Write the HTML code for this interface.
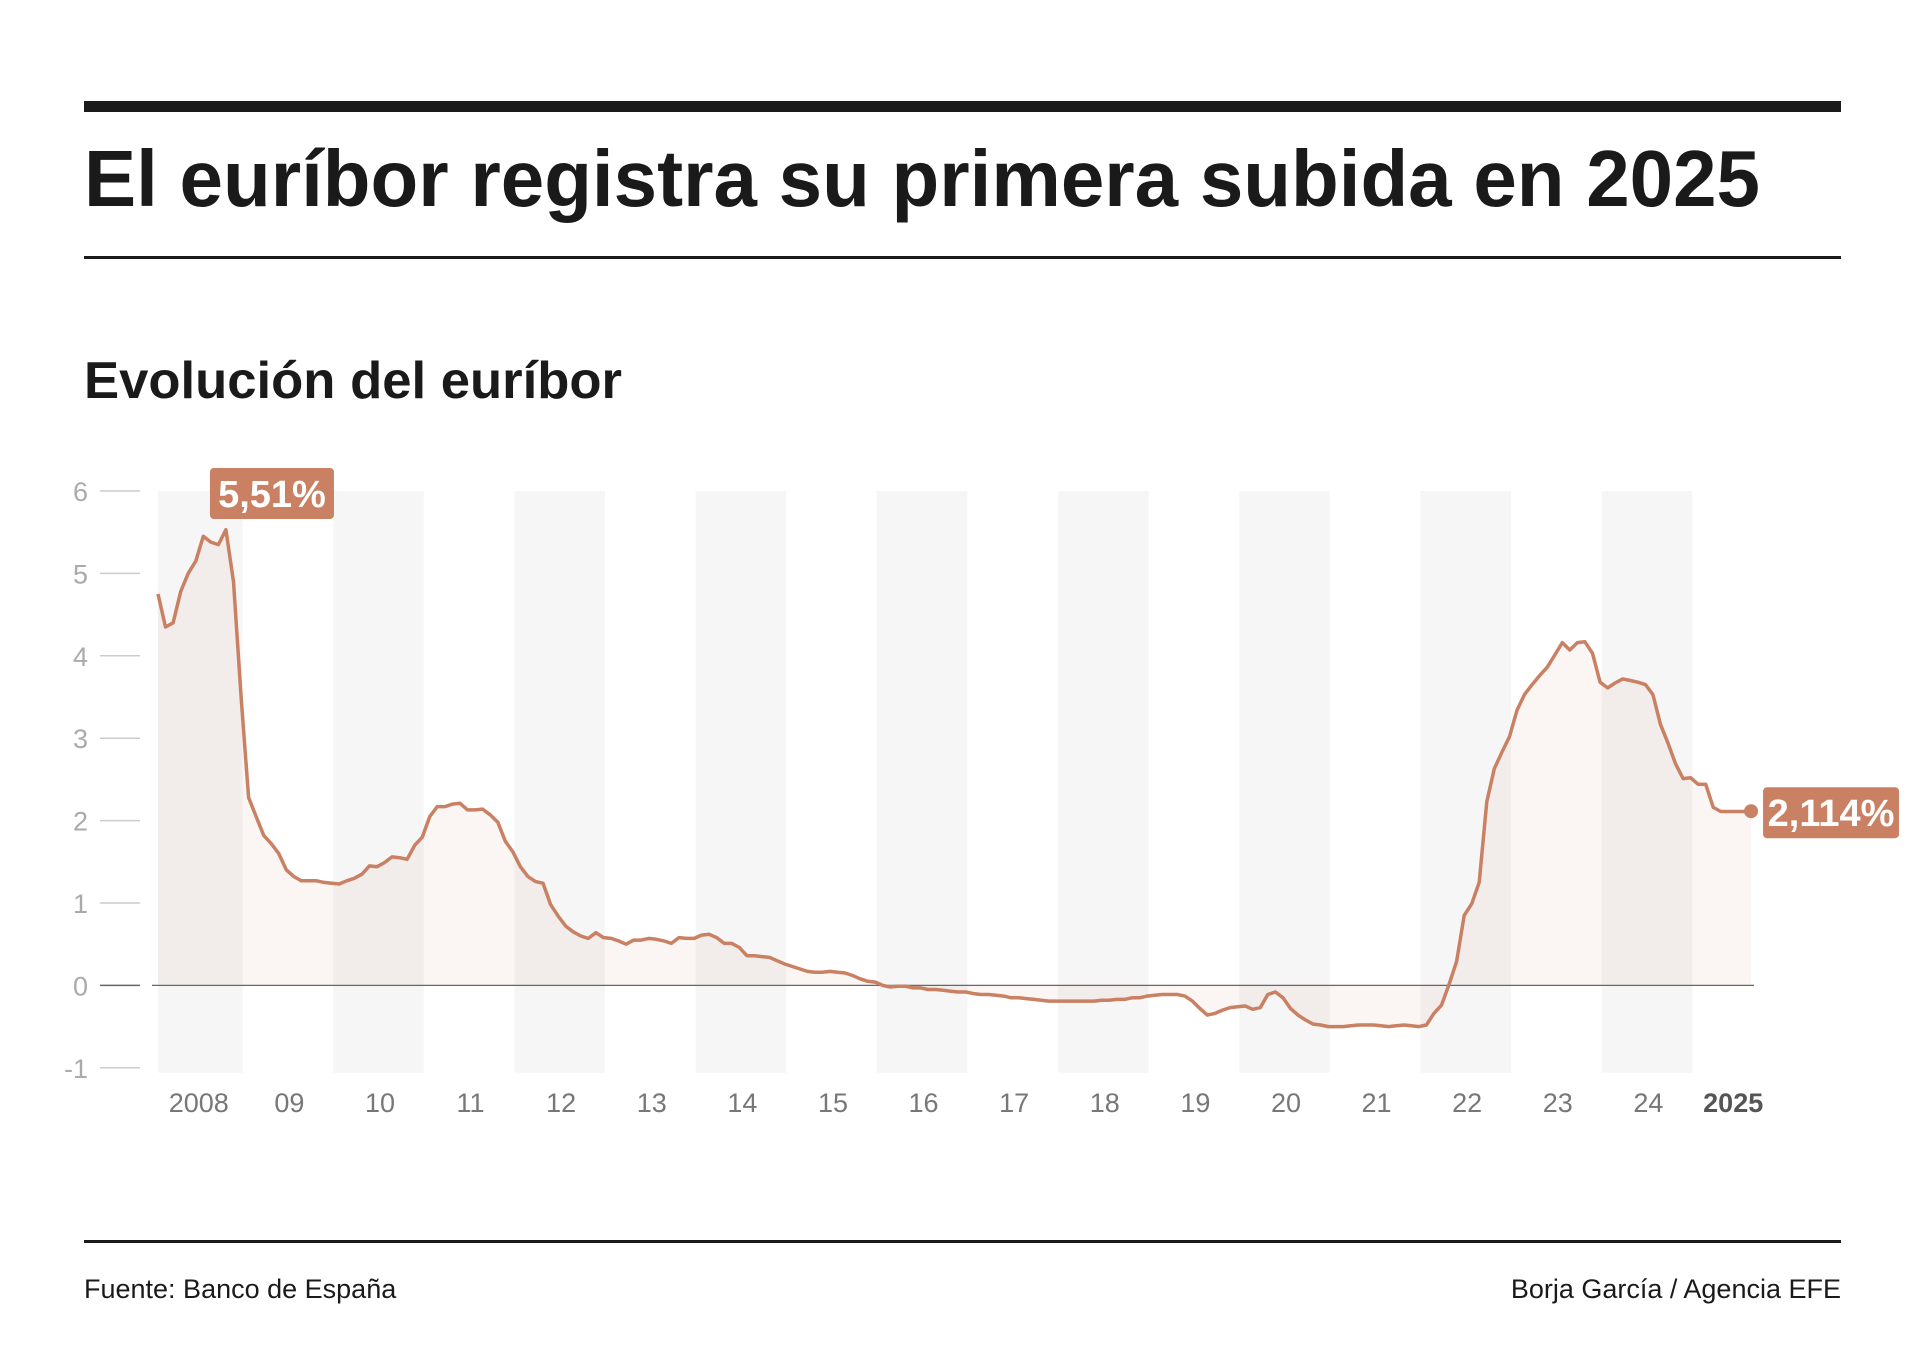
<!DOCTYPE html>
<html><head><meta charset="utf-8"><style>
html,body{margin:0;padding:0;background:#fff;width:1920px;height:1349px;overflow:hidden}
svg text{font-family:"Liberation Sans",sans-serif}
.cond{font-family:"Liberation Sans Narrow","Liberation Sans",sans-serif;font-stretch:condensed}
</style></head><body>
<svg id="chart" width="1920" height="1349" viewBox="0 0 1920 1349" xmlns="http://www.w3.org/2000/svg">
<rect x="84" y="101" width="1757" height="11" fill="#1a1a1a"/>
<text x="84" y="206" font-size="80" font-weight="bold" fill="#1a1a1a" textLength="1676" lengthAdjust="spacingAndGlyphs">El euríbor registra su primera subida en 2025</text>
<rect x="84" y="256" width="1757" height="3" fill="#1a1a1a"/>
<text x="84" y="398" font-size="52" font-weight="bold" fill="#1a1a1a" textLength="538" lengthAdjust="spacingAndGlyphs">Evolución del euríbor</text>
<g id="bands"></g>
<g id="yaxis"></g>
<g id="xaxis"></g>
<g id="series"></g>
<g id="annot"></g>
<rect x="84" y="1240" width="1757" height="3" fill="#1a1a1a"/>
<text x="84" y="1298" font-size="27" fill="#1a1a1a" class="cond">Fuente: Banco de España</text>
<text x="1841" y="1298" font-size="27" fill="#1a1a1a" text-anchor="end" class="cond">Borja García / Agencia EFE</text>
</svg>
<script>
const years = [2008,2009,2010,2011,2012,2013,2014,2015,2016,2017,2018,2019,2020,2021,2022,2023,2024,2025];
const yearLabels = ["2008","09","10","11","12","13","14","15","16","17","18","19","20","21","22","23","24","2025"];
const yTicks = [6,5,4,3,2,1,0,-1];
const startYear = 2008;
const values = [
4.75,4.35,4.40,4.78,5.00,5.15,5.45,5.38,5.35,5.53,4.90,3.50,
2.28,2.05,1.82,1.72,1.60,1.40,1.32,1.27,1.27,1.27,1.25,1.24,
1.23,1.27,1.30,1.35,1.45,1.44,1.49,1.56,1.55,1.53,1.70,1.80,
2.05,2.17,2.17,2.20,2.21,2.13,2.13,2.14,2.07,1.98,1.75,1.62,
1.44,1.32,1.26,1.24,0.98,0.84,0.72,0.65,0.60,0.57,0.64,0.58,
0.57,0.54,0.50,0.55,0.55,0.57,0.56,0.54,0.51,0.58,0.57,0.57,
0.61,0.62,0.58,0.51,0.51,0.46,0.36,0.36,0.35,0.34,0.30,0.26,
0.23,0.20,0.17,0.16,0.16,0.17,0.16,0.15,0.12,0.08,0.05,0.04,
0.00,-0.02,-0.01,-0.01,-0.03,-0.03,-0.05,-0.05,-0.06,-0.07,-0.08,-0.08,
-0.10,-0.11,-0.11,-0.12,-0.13,-0.15,-0.15,-0.16,-0.17,-0.18,-0.19,-0.19,
-0.19,-0.19,-0.19,-0.19,-0.19,-0.18,-0.18,-0.17,-0.17,-0.15,-0.15,-0.13,
-0.12,-0.11,-0.11,-0.11,-0.13,-0.19,-0.28,-0.36,-0.34,-0.30,-0.27,-0.26,
-0.25,-0.29,-0.27,-0.11,-0.08,-0.15,-0.28,-0.36,-0.42,-0.47,-0.48,-0.50,
-0.50,-0.50,-0.49,-0.48,-0.48,-0.48,-0.49,-0.50,-0.49,-0.48,-0.49,-0.50,
-0.48,-0.34,-0.24,0.01,0.29,0.85,0.99,1.25,2.23,2.63,2.83,3.02,
3.34,3.53,3.65,3.76,3.86,4.01,4.16,4.07,4.16,4.17,4.03,3.68,
3.61,3.67,3.72,3.70,3.68,3.65,3.53,3.17,2.94,2.69,2.51,2.52,
2.44,2.44,2.16,2.11,2.11,2.11,2.11,2.114
];
const peakLabel = "5,51%";
const lastLabel = "2,114%";

const NS = "http://www.w3.org/2000/svg";
const X0 = 158, PER_YEAR = 90.6;
const Y_TOP = 491, PER_UNIT = 82.4;
function x(t){ return X0 + (t - startYear) * PER_YEAR; }
function y(v){ return Y_TOP + (6 - v) * PER_UNIT; }
function mk(tag, parent, attrs){ const e = document.createElementNS(NS, tag); for (const k in attrs) e.setAttribute(k, attrs[k]); parent.appendChild(e); return e; }

const bands = document.getElementById('bands');
years.forEach((yr, i) => {
  if (i % 2 === 0 && yr < 2025) {
    const a = Math.max(x(yr) - 6, X0), b = x(yr + 1) - 6;
    const r = mk('rect', bands, {x:a, y:Y_TOP, width:b - a, height:y(-1) + 5 - Y_TOP, fill:'#f6f6f6'});
    
    
  }
});

const yaxis = document.getElementById('yaxis');
yTicks.forEach(v => {
  const l = mk('line', yaxis, {x1:100, x2:140, y1:y(v), y2:y(v), stroke: v === 0 ? '#666' : '#ccc', 'stroke-width':1.5});
  
  
  const t = mk('text', yaxis, {x:88, y:y(v) + 10, 'font-size':27, fill:'#aaa', 'text-anchor':'end', class:'cond'});
  t.textContent = String(v);
  
  
});
const zl = mk('line', yaxis, {x1:152, x2:1754, y1:y(0), y2:y(0), stroke:'#666', 'stroke-width':1.3});



const xaxis = document.getElementById('xaxis');
years.forEach((yr, i) => {
  const last = i === years.length - 1;
  const t = mk('text', xaxis, {x: last ? x(yr) + 35 : x(yr + 0.45), y:1112, 'font-size':27, fill: last ? '#555' : '#777', 'font-weight': last ? 'bold' : 'normal', 'text-anchor':'middle', class:'cond'});
  t.textContent = yearLabels[i];
  
  
});

const series = document.getElementById('series');
const pts = values.map((v, i) => [x(startYear + i / 12), y(v)]);
const lineD = pts.map((p, i) => (i ? 'L' : 'M') + p[0].toFixed(1) + ',' + p[1].toFixed(1)).join('');
const areaD = lineD + 'L' + pts[pts.length - 1][0].toFixed(1) + ',' + y(0) + 'L' + pts[0][0].toFixed(1) + ',' + y(0) + 'Z';
const area = mk('path', series, {d:areaD, fill:'#c98063', 'fill-opacity':0.07});


const line = mk('path', series, {d:lineD, fill:'none', stroke:'#c98063', 'stroke-width':3.5, 'stroke-linejoin':'round'});



const annot = document.getElementById('annot');
let pi = 0; values.forEach((v, i) => { if (v > values[pi]) pi = i; });
const px = pts[pi][0];
const pb = mk('rect', annot, {x:px - 16, y:468, width:124, height:51, rx:4, fill:'#c98063'});


const pt = mk('text', annot, {x:px + 46, y:507, 'font-size':38, 'font-weight':'bold', fill:'#fff', 'text-anchor':'middle', class:'cond'});
pt.textContent = peakLabel;


const lp = pts[pts.length - 1];
const dot = mk('circle', annot, {cx:lp[0], cy:lp[1], r:7, fill:'#c98063'});


const lb = mk('rect', annot, {x:lp[0] + 12, y:lp[1] - 24, width:136, height:51, rx:4, fill:'#c98063'});


const lt = mk('text', annot, {x:lp[0] + 80, y:lp[1] + 15, 'font-size':38, 'font-weight':'bold', fill:'#fff', 'text-anchor':'middle', class:'cond'});
lt.textContent = lastLabel;


</script>
</body></html>
